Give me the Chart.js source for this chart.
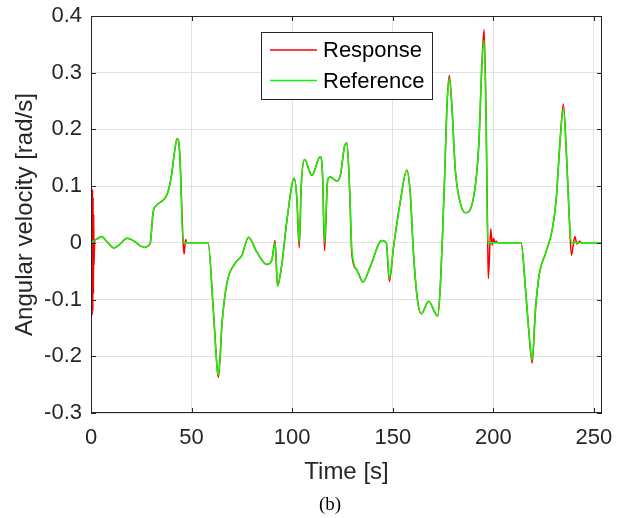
<!DOCTYPE html>
<html>
<head>
<meta charset="utf-8">
<script src="https://cdn.jsdelivr.net/npm/chart.js@4.4.1/dist/chart.umd.min.js"></script>
<style>
  html, body { margin: 0; padding: 0; background: #fff; }
  #wrap { width: 624px; height: 518px; }
</style>
</head>
<body>
<div id="wrap"><canvas id="c" width="624" height="518"></canvas></div>
<script>
// ── data ──────────────────────────────────────────────────
const refTime = [
  0, 2.5, 5.1, 8, 11.4, 14.5, 17.9, 21.5, 24, 26.7, 28.5, 29.5, 30.8, 32.5, 35.8, 38, 40, 41.5, 42.8, 44.1, 45.8,
  58.2, 60.7, 62.8, 63.3, 64.2, 65, 67.5, 71.6, 75, 78.3, 82.4, 87.4, 89.9, 91.5, 92.7, 94.7, 97.4,
  101, 102.3, 103.5, 104.5, 106.1, 109.8, 113.9, 115.1, 116.1, 117.6, 118.9, 122.2, 124, 125, 126, 127.2, 128.5,
  129.7, 132.2, 135.2, 138.8, 144.6, 146.8, 148.3, 150.4, 153.7, 157, 158.7, 160.3, 162.3, 164.2, 167.8, 172.3,
  173.6, 175.6, 177, 178.1, 179.4, 181.1, 183.6, 186.1, 190.2, 192.7, 194.4, 195.4, 196.4, 197.2,
  213.8, 215.9, 217.6, 219.3, 220.9, 222.9, 225.9, 229.2, 231.2, 233.3, 234.8, 236.3, 237.8, 238.8, 254
];
const refValue = [
  0, 0.006, 0.011, 0.002, -0.009, -0.002, 0.008, 0.003, -0.004, -0.008, -0.005, 0, 0.052, 0.066, 0.075, 0.087, 0.119, 0.16, 0.184, 0.158, 0,
  0, -0.113, -0.225, -0.233, -0.2, -0.148, -0.072, -0.036, -0.022, 0.01, -0.016, -0.038, -0.03, 0, -0.076, -0.042, 0.04,
  0.114, 0.08, 0, 0.1, 0.147, 0.119, 0.152, 0.12, 0, 0.11, 0.116, 0.109, 0.12, 0.145, 0.17, 0.176, 0.099,
  -0.013, -0.048, -0.069, -0.042, 0.004, 0, -0.063, -0.007, 0.072, 0.128, 0.087, -0.019, -0.101, -0.125, -0.103, -0.129,
  -0.078, 0.099, 0.246, 0.29, 0.24, 0.128, 0.07, 0.053, 0.081, 0.169, 0.322, 0.357, 0.216, 0,
  0, -0.078, -0.154, -0.207, -0.119, -0.054, -0.019, 0.022, 0.075, 0.187, 0.237, 0.158, 0.04, 0, 0
];
// where the response leaves the reference (spikes, overshoot)
const spikeTime = [
  0.45, 0.6, 0.75, 0.9, 1.05, 1.2, 1.35, 1.5, 1.8,
  46.3, 47.0, 47.6, 63.3, 91.5, 103.5, 116.1, 129.7, 148.3, 178.1, 195.4,
  197.5, 198.7, 199.4, 200.1, 200.8, 201.5, 202.2, 219.3, 234.8, 238.8, 240.5, 241.6, 242.8, 243.8
];
const spikeValue = [
  0.096, -0.127, 0.094, -0.12, 0.08, -0.09, 0.05, -0.04, 0.003,
  -0.02, 0.006, 0, -0.237, 0.004, -0.009, -0.014, -0.022, -0.068, 0.295, 0.376,
  -0.063, 0.025, -0.004, 0.008, 0, 0.003, 0, -0.212, 0.245, -0.022, 0.011, -0.002, 0.003, 0
];
const xTicks = [0, 50, 100, 150, 200, 250];
const yTicks = [-0.3, -0.2, -0.1, 0, 0.1, 0.2, 0.3, 0.4];
const yTickLabels = ['-0.3', '-0.2', '-0.1', '0', '0.1', '0.2', '0.3', '0.4'];

const refPoints = refTime.map((t, i) => ({ x: t, y: refValue[i] }));

function buildResponse() {
    const pts = refTime.map((t, i) => ({ x: t, y: refValue[i] }));
    spikeTime.forEach((t, i) => {
        const hit = pts.find(p => p.x === t);
        if (hit) hit.y = spikeValue[i];
        else pts.push({ x: t, y: spikeValue[i] });
    });
    return pts.sort((a, b) => a.x - b.x);
}

const INK = '#262626';
const FONT = '"Liberation Sans", Arial, sans-serif';

// ── MATLAB-ish box, inward ticks, legend, caption ─────────
const frame = {
    id: 'frame',
    afterDraw(chart) {
        const { ctx, chartArea: a, scales: { x, y } } = chart;
        ctx.save();
        ctx.strokeStyle = INK;
        ctx.lineWidth = 1;
        ctx.strokeRect(a.left + 0.5, a.top + 0.5, a.right - a.left - 1, a.bottom - a.top - 1);
        ctx.beginPath();
        xTicks.forEach(v => {
            const px = Math.round(x.getPixelForValue(v)) + 0.5;
            ctx.moveTo(px, a.bottom); ctx.lineTo(px, a.bottom - 5);
            ctx.moveTo(px, a.top);    ctx.lineTo(px, a.top + 5);
        });
        yTicks.forEach(v => {
            const py = Math.round(y.getPixelForValue(v)) + 0.5;
            ctx.moveTo(a.left, py);  ctx.lineTo(a.left + 5, py);
            ctx.moveTo(a.right, py); ctx.lineTo(a.right - 5, py);
        });
        ctx.stroke();

        // legend
        ctx.fillStyle = '#fff';
        ctx.fillRect(261, 32, 171, 67);
        ctx.strokeRect(261.5, 32.5, 171, 67);
        ctx.font = '22px ' + FONT;
        ctx.textBaseline = 'middle';
        ctx.textAlign = 'left';
        chart.data.datasets.forEach((ds, i) => {
            const ly = 50 + i * 30.5;
            ctx.strokeStyle = ds.borderColor;
            ctx.lineWidth = 1.5;
            ctx.beginPath();
            ctx.moveTo(270, ly); ctx.lineTo(317, ly);
            ctx.stroke();
            ctx.fillStyle = '#000';
            ctx.fillText(ds.label, 323, ly + 1);
        });

        // caption
        ctx.font = '19px "Liberation Serif", "Times New Roman", serif';
        ctx.textAlign = 'center';
        ctx.fillStyle = '#000';
        ctx.fillText('(b)', 330, 505);
        ctx.restore();
    }
};

new Chart(document.getElementById('c'), {
    type: 'line',
    data: {
        datasets: [
            {
                label: 'Response',
                data: buildResponse(),
                borderColor: '#ff0000',
                borderWidth: 1.5,
                pointRadius: 0,
                cubicInterpolationMode: 'monotone',
                order: 1
            },
            {
                label: 'Reference',
                data: refPoints,
                borderColor: '#00ff00',
                borderWidth: 1.5,
                pointRadius: 0,
                cubicInterpolationMode: 'monotone',
                order: 0
            }
        ]
    },
    options: {
        responsive: false,
        animation: false,
        layout: { padding: { top: 16, right: 22, left: 0, bottom: 0 } },
        plugins: { legend: { display: false }, tooltip: { enabled: false } },
        scales: {
            x: {
                type: 'linear',
                min: 0, max: 254,
                afterFit: s => { s.height = 105; s.paddingLeft = 0; s.paddingRight = 0; },
                afterBuildTicks: s => { s.ticks = xTicks.map(v => ({ value: v })); },
                grid: { color: '#e2e2e2', drawTicks: false },
                border: { display: false },
                ticks: {
                    padding: 12, color: INK, maxRotation: 0,
                    font: { size: 22, family: FONT },
                    callback: v => String(v)
                },
                title: {
                    display: true, text: 'Time [s]', color: INK,
                    font: { size: 24, family: FONT },
                    padding: { top: 0, bottom: 31 }
                }
            },
            y: {
                min: -0.3, max: 0.4,
                afterFit: s => { s.width = 91; s.paddingTop = 0; s.paddingBottom = 0; },
                afterBuildTicks: s => { s.ticks = yTicks.map(v => ({ value: v })); },
                grid: { color: '#e2e2e2', drawTicks: false },
                border: { display: false },
                ticks: {
                    padding: 9, color: INK,
                    font: { size: 22, family: FONT },
                    callback: v => yTickLabels[yTicks.findIndex(t => Math.abs(t - v) < 1e-9)]
                },
                title: {
                    display: true, text: 'Angular velocity [rad/s]', color: INK,
                    font: { size: 24, family: FONT },
                    padding: { top: 11, bottom: 0 }
                }
            }
        }
    },
    plugins: [frame]
});
</script>
</body>
</html>
